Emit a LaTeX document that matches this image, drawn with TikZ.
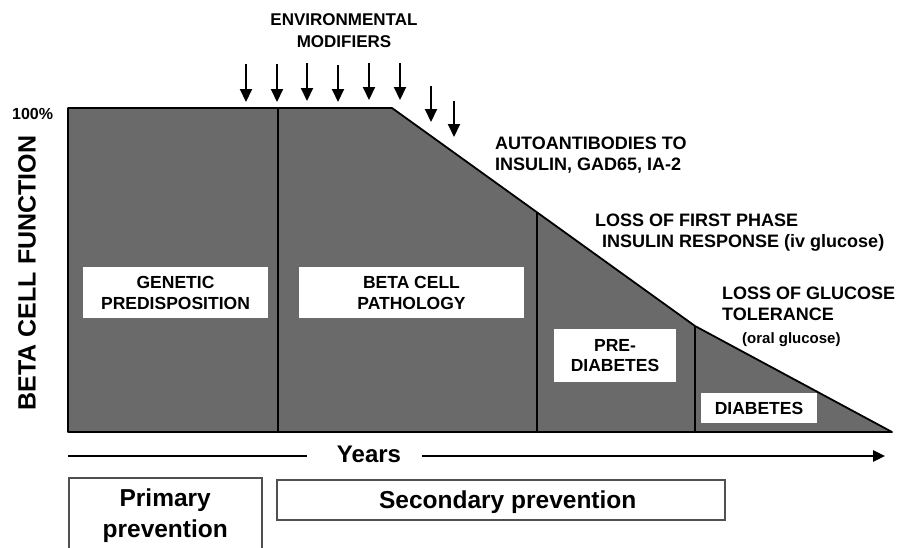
\documentclass[tikz,border=0pt]{standalone}
\usepackage{fontspec}
\setmainfont{Liberation Sans}
\usetikzlibrary{arrows.meta}
\definecolor{fillgray}{RGB}{106,106,106}
\definecolor{boxline}{RGB}{80,80,80}
\begin{document}
\begin{tikzpicture}[x=1pt,y=-1pt,
  txt/.style={inner sep=0pt, font=\bfseries\fontsize{18}{21}\selectfont, align=left},
  wlabel/.style={fill=white, inner sep=0pt, align=center, font=\bfseries\fontsize{17.5}{21}\selectfont},
  modarrow/.style={line width=2pt, -{Triangle[width=12pt,length=13pt]}},
  divider/.style={line width=1.8pt},
  axisline/.style={line width=2.5pt},
  prevbox/.style={draw=boxline, line width=1.5pt, fill=white, inner sep=0pt, align=center, font=\bfseries\fontsize{24.5}{31}\selectfont}
]
\useasboundingbox (0,0) rectangle (899,547);

% shaded beta cell function region
\coordinate (tl) at (68,108);
\coordinate (tk) at (392,108);
\coordinate (k2) at (695,326);
\coordinate (tip) at (892,432);
\coordinate (bl) at (68,432);
\filldraw[fill=fillgray, draw=black, line width=1.8pt, line join=round] (tl) -- (tk) -- (k2) -- (tip) -- (bl) -- cycle;

% dividers
\coordinate (d1t) at (278,108);   \coordinate (d1b) at (278,432);
\coordinate (d2t) at (537,212.3); \coordinate (d2b) at (537,432);
\coordinate (d3t) at (695,326);   \coordinate (d3b) at (695,432);
\draw[divider] (d1t) -- (d1b);
\draw[divider] (d2t) -- (d2b);
\draw[divider] (d3t) -- (d3b);

% stage labels
\node[wlabel, minimum width=185pt, minimum height=51pt] (gen) at (175.5,292.5) {GENETIC\\PREDISPOSITION};
\node[wlabel, minimum width=225pt, minimum height=51pt] (bcp) at (411.5,292.5) {BETA CELL\\PATHOLOGY};
\node[wlabel, minimum width=122pt, minimum height=53pt, font=\bfseries\fontsize{17.5}{20}\selectfont] (pre) at (615,355.5) {PRE-\\DIABETES};
\node[wlabel, minimum width=116pt, minimum height=30pt] (dia) at (759,408) {DIABETES};

% environmental modifier arrows
\foreach \x/\ya/\yb [count=\i] in {246/64/102, 277/64/102, 307/63/101, 338/65/102, 369/63/100, 400/63/100, 431/86/122, 454/101/137} {
  \coordinate (ms\i) at (\x,\ya);
  \coordinate (me\i) at (\x,\yb);
  \draw[modarrow] (ms\i) -- (me\i);
}

% annotations
\node[inner sep=0pt, align=center, anchor=north, font=\bfseries\fontsize{17}{22}\selectfont] (env) at (344,13.3) {ENVIRONMENTAL\\MODIFIERS};
\node[txt, anchor=north west] (auto) at (495,137) {AUTOANTIBODIES TO\\INSULIN, GAD65, IA-2};
\node[txt, anchor=north west] (fpir) at (595,213.3) {LOSS OF FIRST PHASE\\\hspace*{7pt}INSULIN RESPONSE (iv glucose)};
\node[txt, anchor=north west, font=\bfseries\fontsize{18}{21.5}\selectfont] (lgt) at (722,286.7) {LOSS OF GLUCOSE\\TOLERANCE};
\node[inner sep=0pt, font=\bfseries\fontsize{15}{18}\selectfont, anchor=base west] (oral) at (742,343) {(oral glucose)};

% axis labels
\node[inner sep=0pt, font=\bfseries\fontsize{16}{19}\selectfont, anchor=base west] (pct) at (12,119.5) {100\%};
\node[inner sep=0pt, font=\bfseries\fontsize{25}{30}\selectfont, rotate=90] (ylab) at (27,273) {BETA CELL FUNCTION};

% years axis
\node[inner sep=0pt, font=\bfseries\fontsize{24}{28}\selectfont, anchor=base] (years) at (369,462.5) {Years};
\coordinate (ya) at (68,456);  \coordinate (yb) at (307,456);
\coordinate (yc) at (422,456); \coordinate (yd) at (885,456);
\draw[axisline] (ya) -- (yb);
\draw[axisline, -{Triangle[width=11pt,length=12pt]}] (yc) -- (yd);

% prevention boxes
\node[prevbox, minimum width=193pt, minimum height=75pt, anchor=north west] (prim) at (68,477) {Primary\\prevention};
\node[prevbox, minimum width=448pt, minimum height=40pt, anchor=north west, text depth=0pt] (sec) at (276,479) {\hspace*{14pt}Secondary prevention};
\end{tikzpicture}
\end{document}
